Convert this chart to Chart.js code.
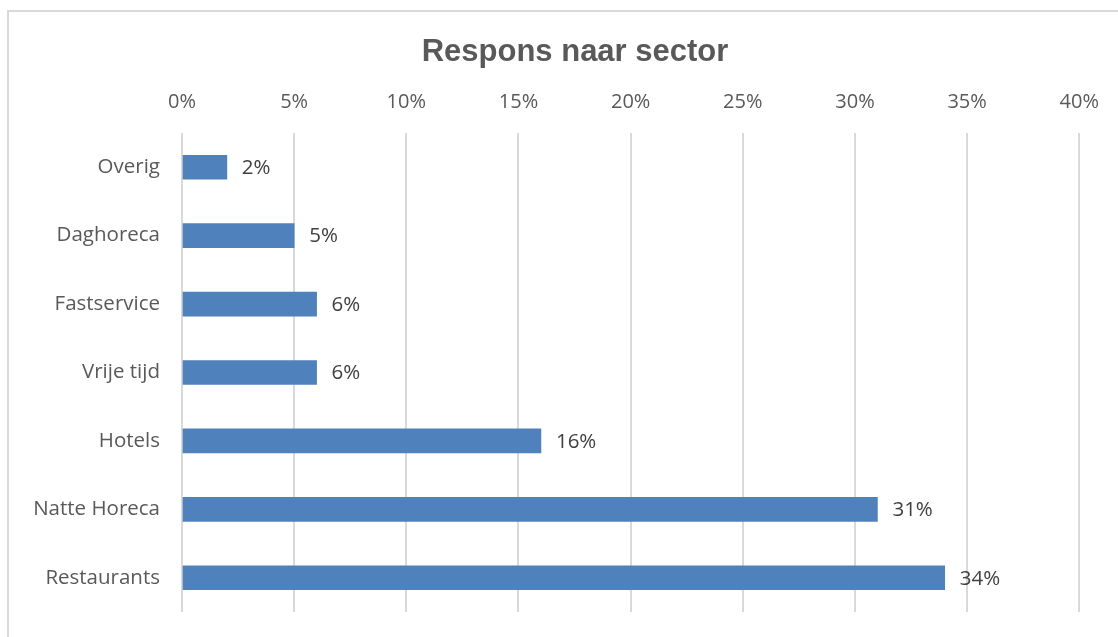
<!DOCTYPE html>
<html>
<head>
<meta charset="utf-8">
<script src="https://cdn.jsdelivr.net/npm/chart.js@4"></script>
<style>
  html, body { margin: 0; padding: 0; overflow: hidden; background: #fff; }
  #wrap { position: relative; width: 1118px; height: 637px; }
  #frame { position: absolute; left: 7px; top: 10px; width: 1130px; height: 650px;
           border: 2px solid #d9d9d9; box-sizing: border-box; pointer-events: none; }
</style>
</head>
<body>
<div id="wrap">
  <canvas id="barChart" width="1118" height="637"></canvas>
  <div id="frame"></div>
</div>
<script>
const sectors = ["Overig", "Daghoreca", "Fastservice", "Vrije tijd", "Hotels", "Natte Horeca", "Restaurants"];
const respons = [2, 5, 6, 6, 16, 31, 34]; // percentages
const ticksPct = [0, 5, 10, 15, 20, 25, 30, 35, 40];
const chartTitle = "Respons naar sector";

const fontFam = "'Open Sans', 'DejaVu Sans', sans-serif";

// labels next to the bars + title centred on the frame
const extras = {
  id: 'extras',
  afterDatasetsDraw(chart) {
    const ctx = chart.ctx;
    const meta = chart.getDatasetMeta(0);
    ctx.save();
    ctx.font = "20.5px " + fontFam;
    ctx.fillStyle = "#404040";
    ctx.textAlign = "left";
    ctx.textBaseline = "middle";
    meta.data.forEach((bar, i) => {
      ctx.fillText(respons[i] + "%", bar.x + 15, bar.y + 1);
    });
    ctx.font = "bold 31px 'Liberation Sans', Arial, sans-serif";
    ctx.fillStyle = "#595959";
    ctx.textAlign = "center";
    ctx.fillText(chartTitle, 575, 52);
    ctx.restore();
  }
};

new Chart(document.getElementById('barChart').getContext('2d'), {
  type: 'bar',
  data: {
    labels: sectors,
    datasets: [{
      data: respons,
      backgroundColor: "#4f81bd",
      borderWidth: 0,
      barThickness: 24
    }]
  },
  options: {
    indexAxis: 'y',
    responsive: false,
    animation: false,
    layout: { padding: { left: 0, right: 37, top: 77, bottom: 25 } },
    plugins: {
      legend: { display: false },
      tooltip: { enabled: false },
      title: { display: false }
    },
    scales: {
      x: {
        position: 'top',
        min: 0,
        max: 40,
        afterBuildTicks(scale) {
          scale.ticks = ticksPct.map(v => ({ value: v }));
        },
        afterFit(scale) { scale.height = 56; },
        ticks: {
          callback: v => v + "%",
          color: "#595959",
          font: { family: fontFam, size: 20 },
          padding: 19,
          maxRotation: 0
        },
        grid: { color: "#d9d9d9", lineWidth: 2, drawTicks: false },
        border: { display: false }
      },
      y: {
        afterFit(scale) {
          scale.width = 182;
          scale.paddingTop = 0;
          scale.paddingBottom = 0;
        },
        ticks: {
          color: "#595959",
          font: { family: fontFam, size: 20.5 },
          padding: 22
        },
        grid: { display: false, drawTicks: false },
        border: { display: false }
      }
    }
  },
  plugins: [extras]
});
</script>
</body>
</html>
